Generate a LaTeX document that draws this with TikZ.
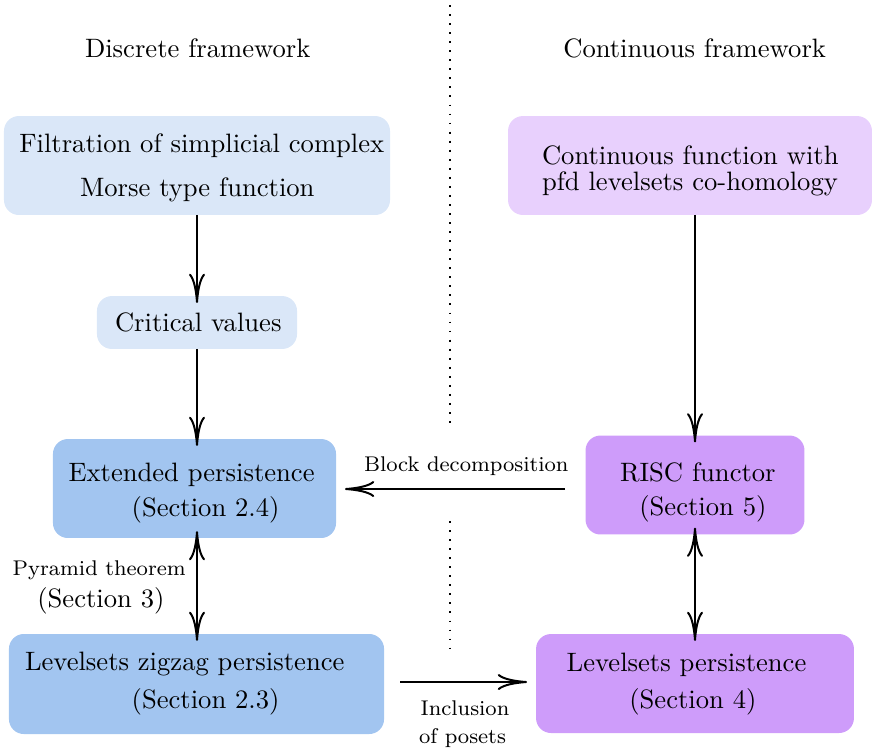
\documentclass[tikz,border=0pt]{standalone}
\usetikzlibrary{arrows.meta}
\definecolor{lblue}{RGB}{218,231,248}
\definecolor{dblue}{RGB}{162,197,240}
\definecolor{lpurp}{RGB}{232,208,253}
\definecolor{dpurp}{RGB}{206,156,250}
\tikzset{
  box/.style={rounded corners=5.6pt, inner sep=0pt, outer sep=0pt},
  txt/.style={anchor=base west, inner sep=0pt, outer sep=0pt},
  lbl/.style={anchor=base west, inner sep=0pt, outer sep=0pt, font=\footnotesize},
  tip/.tip={To[length=11pt,width=6pt]},
  arr/.style={line width=0.75pt, -tip, shorten >=-2.6pt},
  darr/.style={line width=0.75pt, tip-tip, shorten >=-2.6pt, shorten <=-2.6pt},
  sep/.style={line width=0.7pt, dash pattern=on 0.7pt off 2.7pt}
}
\begin{document}
\begin{tikzpicture}[x=0.3759pt,y=-0.3759pt]
\useasboundingbox (0,0) rectangle (872,751);
% dotted separators
\coordinate (s1) at (450,5);
\coordinate (s2) at (450,425);
\coordinate (s3) at (450,521);
\coordinate (s4) at (450,649);
\draw[sep] (s1) -- (s2);
\draw[sep] (s3) -- (s4);
% headers
\node[txt] (h1) at (85,57.7) {Discrete framework};
\node[txt] (h2) at (563.3,57.7) {Continuous framework};
% boxes
\node[box, fill=lblue, minimum width=145.1pt, minimum height=37.2pt] (b1) at (197,165.5) {};
\node[box, fill=lblue, minimum width=75.2pt, minimum height=19.9pt] (b2) at (197,322.5) {};
\node[box, fill=dblue, minimum width=106.4pt, minimum height=37.2pt] (b3) at (194.5,488.5) {};
\node[box, fill=dblue, minimum width=141pt, minimum height=37.6pt] (b4) at (196.5,684) {};
\node[box, fill=lpurp, minimum width=136.8pt, minimum height=37.2pt] (b5) at (690,165.5) {};
\node[box, fill=dpurp, minimum width=82.3pt, minimum height=37.2pt] (b6) at (695,485) {};
\node[box, fill=dpurp, minimum width=119.5pt, minimum height=37.2pt] (b7) at (695,683.5) {};
% box texts
\node[txt] (t1a) at (19.3,152.3) {Filtration of simplicial complex};
\node[txt] (t1b) at (80,196.7) {Morse type function};
\node[txt] (t2) at (115,331) {Critical values};
\node[txt] (t3a) at (68.5,481) {Extended persistence};
\node[txt] (t3b) at (131.7,516) {(Section 2.4)};
\node[txt] (t4a) at (25,670.7) {Levelsets zigzag persistence};
\node[txt] (t4b) at (131.7,708.3) {(Section 2.3)};
\node[txt] (t5a) at (542,164) {Continuous function with};
\node[txt] (t5b) at (542,190.7) {pfd levelsets co-homology};
\node[txt] (t6a) at (620,481) {RISC functor};
\node[txt] (t6b) at (639.3,515) {(Section 5)};
\node[txt] (t7a) at (566.7,671.7) {Levelsets persistence};
\node[txt] (t7b) at (629.3,708.3) {(Section 4)};
% vertical arrows
\draw[arr] (b1) -- (b2);
\draw[arr] (b2) -- (b3.north -| b2);
\draw[arr] (b5.south -| b6) -- (b6);
\draw[darr] (b3.south -| b2) -- (b4.north -| b2);
\draw[darr] (b6.south) -- (b7.north -| b6);
% horizontal arrows
\coordinate (bd1) at (565,489);
\coordinate (bd2) at (345,489);
\draw[arr, shorten >=0pt] (bd1) -- (bd2);
\node[lbl] (l1) at (364,471) {Block decomposition};
\coordinate (ip1) at (400,682);
\coordinate (ip2) at (527,682);
\draw[arr, shorten >=0pt] (ip1) -- (ip2);
\node[lbl] (l2a) at (420.7,715.7) {Inclusion};
\node[lbl] (l2b) at (419,743.3) {of posets};
% pyramid label
\node[lbl] (l3a) at (12.7,575.7) {Pyramid theorem};
\node[txt] (l3b) at (37.3,607.7) {(Section 3)};
\end{tikzpicture}
\end{document}
